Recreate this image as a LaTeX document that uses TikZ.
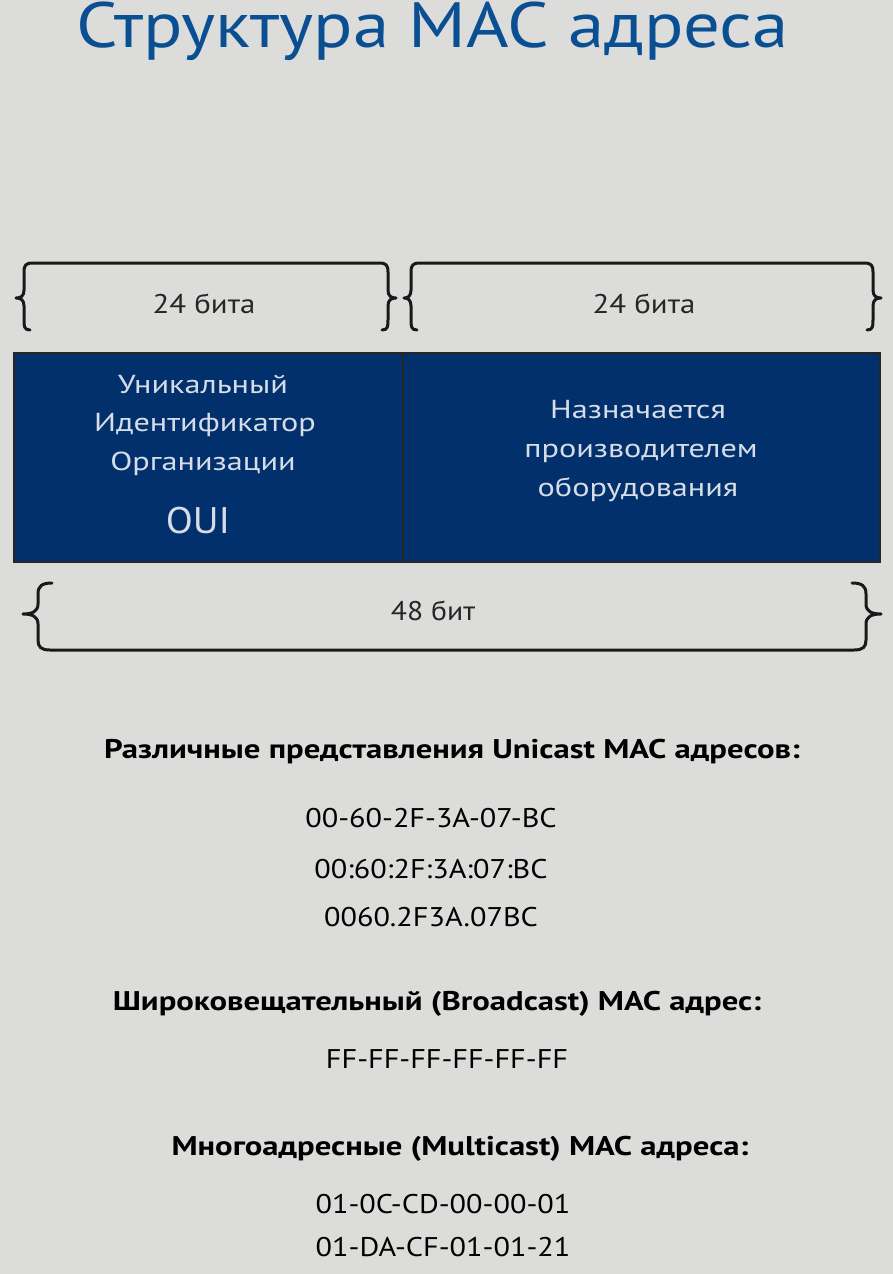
\documentclass[tikz,border=0pt]{standalone}
\usepackage{fontspec}
\setmainfont{PT Sans}
\usetikzlibrary{positioning}
\definecolor{bgGray}{HTML}{DCDCDB}
\definecolor{titleBlue}{HTML}{0B4F93}
\definecolor{fieldBlue}{HTML}{02306D}
\definecolor{fieldText}{HTML}{D6DDE6}
\newcommand{\widefont}[3]{\fontsize{#1}{#2}\selectfont\addfontfeature{FakeStretch=#3}}
\tikzset{
  brace/.style={line width=3pt, line cap=round, line join=round, black!90},
  bitlabel/.style={anchor=base, text=black!85, font=\widefont{27}{32}{1.14}},
  fieldtext/.style={anchor=base, text=fieldText, font=\widefont{26}{31}{1.24}},
  heading/.style={anchor=base, font=\bfseries\widefont{27}{32}{1.21}},
  addr/.style={anchor=base, font=\widefont{27}{32}{1.12}},
}

\begin{document}
\begin{tikzpicture}[x=1pt, y=-1pt] % pixel grid, y runs down
        % Background
        \fill[bgGray] (0,0) rectangle (893,1274);
        \useasboundingbox (0,0) rectangle (893,1274);

        % Title
        \node[anchor=base, text=titleBlue, font=\widefont{64}{70}{1.14}] (title) at (433,47) {Структура MAC адреса};

        % Top braces (24 + 24 bits)
        \draw[brace] (30,330) .. controls (24,330) and (24,326) .. (24,320) -- (24,306)
            .. controls (24,300) and (21,298) .. (16,298) .. controls (21,298) and (24,296) .. (24,290)
            -- (24,272) .. controls (24,265) and (26,263) .. (33,263) -- (379,263)
            .. controls (386,263) and (388,265) .. (388,272) -- (388,290)
            .. controls (388,296) and (391,298) .. (396,298) .. controls (391,298) and (388,300) .. (388,306)
            -- (388,320) .. controls (388,326) and (388,330) .. (382,330);
        \draw[brace] (417,330) .. controls (411,330) and (411,326) .. (411,320) -- (411,306)
            .. controls (411,300) and (408,298) .. (404,298) .. controls (408,298) and (411,296) .. (411,290)
            -- (411,272) .. controls (411,265) and (413,263) .. (420,263) -- (864,263)
            .. controls (871,263) and (873,265) .. (873,272) -- (873,290)
            .. controls (873,296) and (876,298) .. (881,298) .. controls (876,298) and (873,300) .. (873,306)
            -- (873,320) .. controls (873,326) and (873,330) .. (867,330);
        \node[bitlabel] (oui bits) at (204,313) {24 бита};
        \node[bitlabel] (nic bits) at (644,313) {24 бита};

        % MAC address fields
        \draw[fill=fieldBlue, draw=black!85, line width=2pt] (14,353) rectangle (880,562);
        \draw[black!85, line width=2pt] (403,353) -- (403,562);
        \node[fieldtext] (oui1) at (203,393) {Уникальный};
        \node[fieldtext] (oui2) at (205,431) {Идентификатор};
        \node[fieldtext] (oui3) at (203,470) {Организации};
        \node[fieldtext, font=\widefont{37}{40}{1.07}] (oui) at (198,533) {OUI};
        \node[fieldtext] (nic1) at (638,418) {Назначается};
        \node[fieldtext] (nic2) at (641,457) {производителем};
        \node[fieldtext] (nic3) at (638,496) {оборудования};

        % Bottom brace (48 bits)
        \draw[brace] (52,583) .. controls (42,583) and (38,586) .. (38,594) -- (38,604)
            .. controls (38,611) and (33,614) .. (23,614) .. controls (33,614) and (38,617) .. (38,624)
            -- (38,640) .. controls (38,647) and (41,650) .. (50,650) -- (854,650)
            .. controls (863,650) and (866,647) .. (866,640) -- (866,624)
            .. controls (866,617) and (871,614) .. (881,614) .. controls (871,614) and (866,611) .. (866,604)
            -- (866,594) .. controls (866,586) and (862,583) .. (852,583);
        \node[bitlabel, font=\widefont{27}{32}{1.1}] (mac bits) at (433,620) {48 бит};

        % Address examples
        \node[heading] (unicast) at (452,758) {Различные представления Unicast MAC адресов:};
        \foreach \a/\y [count=\i] in {00-60-2F-3A-07-BC/827, 00:60:2F:3A:07:BC/878, 0060.2F3A.07BC/926} {
            \node[addr] (uni\i) at (431,\y) {\a};
        }
        \node[heading] (broadcast) at (437,1010) {Широковещательный (Broadcast) MAC адрес:};
        \node[addr] (bcast) at (447,1068) {FF-FF-FF-FF-FF-FF};
        \node[heading] (multicast) at (460,1155) {Многоадресные (Multicast) MAC адреса:};
        \foreach \a/\y [count=\i] in {01-0C-CD-00-00-01/1213, 01-DA-CF-01-01-21/1256} {
            \node[addr] (multi\i) at (443,\y) {\a};
        }

    \end{tikzpicture}
\end{document}
